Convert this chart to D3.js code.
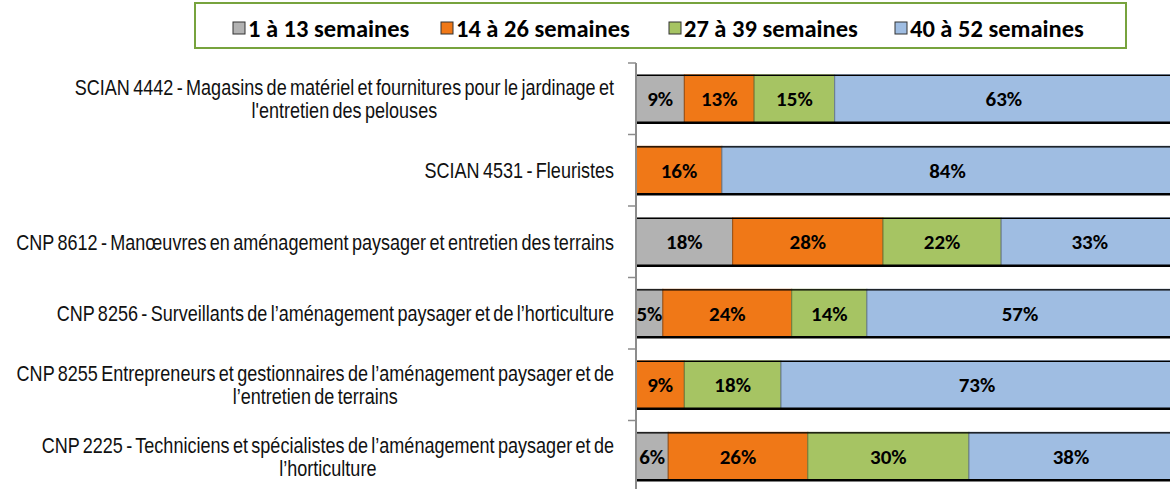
<!DOCTYPE html>
<html>
<head>
<meta charset="utf-8">
<script src="https://cdn.jsdelivr.net/npm/d3@7"></script>
<style>
  body { margin: 0; background: #fff; }
  svg { display: block; }
</style>
</head>
<body>
<svg id="chart" width="1170" height="489"></svg>
<script>
var w = 1170;
var h = 489;

// categories (line breaks as in the picture)
var categories = [
    "SCIAN 4442 - Magasins de matériel et fournitures pour le jardinage et\nl'entretien des pelouses",
    "SCIAN 4531 - Fleuristes",
    "CNP 8612 - Manœuvres en aménagement paysager et entretien des terrains",
    "CNP 8256 - Surveillants de l’aménagement paysager et de l’horticulture",
    "CNP 8255 Entrepreneurs et gestionnaires de l’aménagement paysager et de\nl’entretien de terrains",
    "CNP 2225 - Techniciens et spécialistes de l’aménagement paysager et de\nl’horticulture"
];
var seriesNames = ["1 à 13 semaines", "14 à 26 semaines", "27 à 39 semaines", "40 à 52 semaines"];
var s1 = [9, 0, 18, 5, 0, 6];
var s2 = [13, 16, 28, 24, 9, 26];
var s3 = [15, 0, 22, 14, 18, 30];
var s4 = [63, 84, 33, 57, 73, 38];
var colors = ["#b2b2b2", "#f07817", "#a6c463", "#9fbde2"];

var labelFont = "'Liberation Sans Narrow', 'Arial Narrow', 'Liberation Sans', Arial, sans-serif";
var boldFont = "Carlito, Calibri, Lato, 'Open Sans', sans-serif";

var svg = d3.select("#chart");

var rows = categories.map(function (c, i) {
    return { cat: c, vals: [s1[i], s2[i], s3[i], s4[i]] };
});

var x = d3.scaleLinear().domain([0, 100]).range([636, 1173]);
var y = d3.scaleBand().domain(categories).range([63, 492])
    .paddingInner(0.33).paddingOuter(0.165);

// bars
var g = svg.append("g");
rows.forEach(function (r) {
    var acc = 0;
    var segs = r.vals.map(function (v, k) {
        var s = { x0: acc, x1: acc + v, v: v, k: k };
        acc += v;
        return s;
    });
    var row = g.append("g");
    row.selectAll("rect")
        .data(segs.filter(function (s) { return s.v > 0; }))
        .enter().append("rect")
        .attr("x", function (s) { return x(s.x0); })
        .attr("width", function (s) { return x(s.x1) - x(s.x0); })
        .attr("y", y(r.cat))
        .attr("height", y.bandwidth())
        .attr("fill", function (s) { return colors[s.k]; })
        .attr("stroke", function (s) { return d3.color(colors[s.k]).darker(1.2); })
        .attr("stroke-width", 1);
    // top and bottom edges
    row.append("line")
        .attr("x1", x(0)).attr("x2", x(acc))
        .attr("y1", y(r.cat) + 0.5).attr("y2", y(r.cat) + 0.5)
        .attr("stroke", "#000").attr("stroke-width", 1.2);
    row.append("line")
        .attr("x1", x(0)).attr("x2", x(acc))
        .attr("y1", y(r.cat) + y.bandwidth()).attr("y2", y(r.cat) + y.bandwidth())
        .attr("stroke", "#000").attr("stroke-width", 2.4);
    // value labels
    row.selectAll("text")
        .data(segs.filter(function (s) { return s.v > 0; }))
        .enter().append("text")
        .attr("x", function (s) { return (x(s.x0) + x(s.x1)) / 2; })
        .attr("y", y(r.cat) + y.bandwidth() / 2)
        .attr("dy", "0.36em")
        .attr("text-anchor", "middle")
        .style("font-family", boldFont)
        .style("font-weight", "bold")
        .style("font-size", "21px")
        .attr("fill", "#000")
        .text(function (s) { return s.v + "%"; });
});

// axis: vertical line and ticks between categories
var ax = svg.append("g").attr("stroke", "#8c8c8c");
ax.append("line")
    .attr("x1", 636).attr("x2", 636)
    .attr("y1", y.range()[0]).attr("y2", y.range()[1])
    .attr("stroke-width", 2);
var bounds = categories.map(function (c) { return y(c) - y.step() * y.paddingInner() / 2; });
bounds.push(y.range()[1]);
ax.selectAll("line.tick")
    .data(bounds)
    .enter().append("line")
    .attr("class", "tick")
    .attr("x1", 628).attr("x2", 636)
    .attr("y1", function (d) { return d; })
    .attr("y2", function (d) { return d; })
    .attr("stroke-width", 1.5);

// category labels: block right aligned, lines centered inside the block
var probe = svg.append("text").style("font-family", labelFont).style("font-size", "18px")
    .text("SCIAN 4442 - Magasins de matériel");
var probe2 = svg.append("text").style("font-family", "'Liberation Sans', Arial, sans-serif")
    .style("font-size", "18px").text("SCIAN 4442 - Magasins de matériel");
var narrowOk = probe.node().getComputedTextLength() / probe2.node().getComputedTextLength() < 0.9;
probe.remove();
probe2.remove();
var sx = narrowOk ? 1 : 0.82;

var labels = svg.append("g");
rows.forEach(function (r) {
    var lines = r.cat.split("\n");
    var cy = y(r.cat) + y.bandwidth() / 2;
    var lg = labels.append("g")
        .attr("transform", "translate(614," + cy + ") scale(" + sx + ",1)");
    var t = lg.selectAll("text")
        .data(lines)
        .enter().append("text")
        .attr("y", function (d, i) { return (i - (lines.length - 1) / 2) * 23; })
        .attr("dy", "0.36em")
        .attr("text-anchor", "middle")
        .style("font-family", labelFont)
        .style("font-size", "22px")
        .style("word-spacing", "-2px")
        .attr("fill", "#111")
        .text(function (d) { return d; });
    var maxW = 0;
    t.each(function () { maxW = Math.max(maxW, this.getComputedTextLength()); });
    t.attr("x", -maxW / 2);
});

// legend
var leg = svg.append("g");
leg.append("rect")
    .attr("x", 195).attr("y", 3).attr("width", 931).attr("height", 45)
    .attr("fill", "#fff").attr("stroke", "#77a33d").attr("stroke-width", 2);
var legX = [233, 441, 669, 895];
seriesNames.forEach(function (n, i) {
    leg.append("rect")
        .attr("x", legX[i]).attr("y", 22).attr("width", 12).attr("height", 12)
        .attr("fill", colors[i]).attr("stroke", "#333").attr("stroke-width", 1);
    leg.append("text")
        .attr("x", legX[i] + 15).attr("y", 28).attr("dy", "0.36em")
        .style("font-family", boldFont)
        .style("font-weight", "bold")
        .style("font-size", "24.5px")
        .attr("fill", "#000")
        .text(n);
});
</script>
</body>
</html>
